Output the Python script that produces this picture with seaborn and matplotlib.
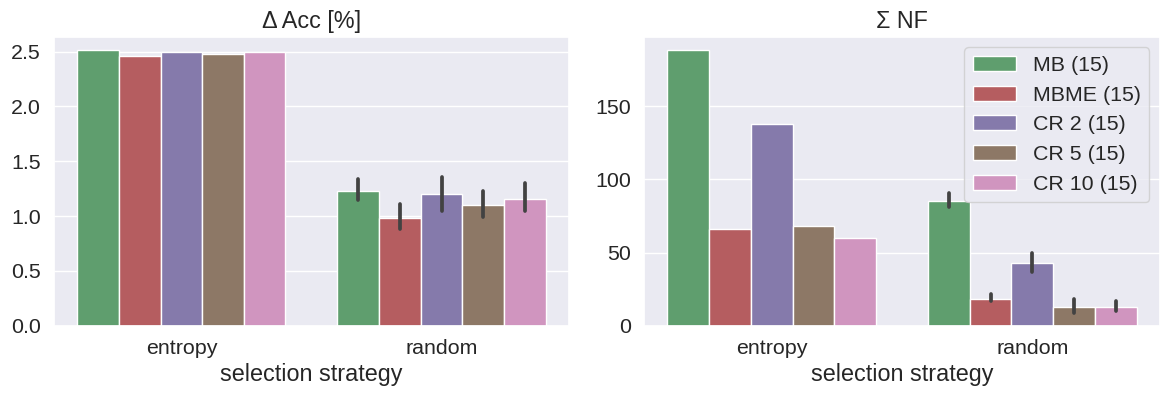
import pandas as pd
import matplotlib
matplotlib.use("Agg")
import matplotlib.pyplot as plt
import seaborn as sns

strategies = ["entropy", "random"]
methods = ["MB (15)", "MBME (15)", "CR 2 (15)", "CR 5 (15)", "CR 10 (15)"]

# mean values per method, order: [entropy, random]
acc_mean = {
    "MB (15)": [2.51, 1.23],
    "MBME (15)": [2.46, 0.98],
    "CR 2 (15)": [2.50, 1.20],
    "CR 5 (15)": [2.48, 1.10],
    "CR 10 (15)": [2.50, 1.16],
}
# confidence interval for the random strategy (low, high)
acc_ci = {
    "MB (15)": (1.15, 1.34),
    "MBME (15)": (0.88, 1.11),
    "CR 2 (15)": (1.05, 1.36),
    "CR 5 (15)": (0.99, 1.23),
    "CR 10 (15)": (1.05, 1.30),
}

nf_mean = {
    "MB (15)": [188.0, 85.0],
    "MBME (15)": [66.0, 18.5],
    "CR 2 (15)": [138.0, 42.5],
    "CR 5 (15)": [68.0, 13.0],
    "CR 10 (15)": [60.0, 13.0],
}
nf_ci = {
    "MB (15)": (80.8, 90.6),
    "MBME (15)": (17.0, 21.5),
    "CR 2 (15)": (37.0, 49.4),
    "CR 5 (15)": (8.9, 18.0),
    "CR 10 (15)": (10.3, 17.2),
}

palette = sns.color_palette("deep")[2:7]


def make_df(means, col):
    rows = []
    for m in methods:
        for s, v in zip(strategies, means[m]):
            rows.append({"selection strategy": s, "method": m, col: v})
    return pd.DataFrame(rows)


def draw(ax, means, ci, col, title):
    df = make_df(means, col)
    sns.barplot(data=df, x="selection strategy", y=col, hue="method",
                hue_order=methods, order=strategies, palette=palette,
                errorbar=None, ax=ax)
    # error bars for the random strategy
    for cont, m in zip(ax.containers, methods):
        bar = cont.patches[1]
        xc = bar.get_x() + bar.get_width() / 2
        lo, hi = ci[m]
        ax.plot([xc, xc], [lo, hi], color=".26", lw=2.7, solid_capstyle="round")
    ax.set_title(title)
    ax.set_ylabel("")


sns.set_theme(style="darkgrid", font_scale=1.4)
plt.rcParams['font.family'] = ['Arial', 'Liberation Sans', 'DejaVu Sans']

fig, axs = plt.subplots(1, 2, figsize=(11.69, 3.95), dpi=100)
bottom, top = 0.1754, 0.9071
axs[0].set_position([0.0462, bottom, 0.4867 - 0.0462, top - bottom])
axs[1].set_position([0.5509, bottom, 0.9923 - 0.5509, top - bottom])

draw(axs[0], acc_mean, acc_ci, "acc", "Δ Acc [%]")
draw(axs[1], nf_mean, nf_ci, "nf", "Σ NF")

axs[0].get_legend().remove()
axs[1].legend(loc="upper right", title=None)
axs[1].set_yticks([0, 50, 100, 150])

fig.savefig("out.png", dpi=100)
